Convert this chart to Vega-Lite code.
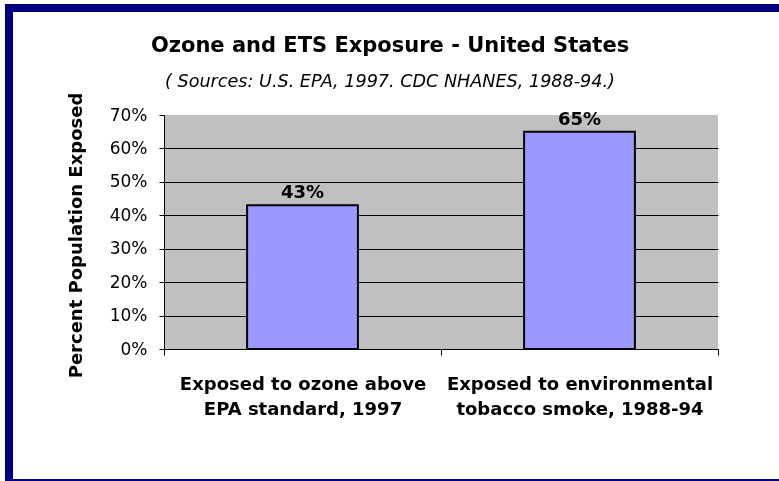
{
  "$schema": "https://vega.github.io/schema/vega-lite/v6.json",
  "autosize": {"type": "none"},
  "width": 776,
  "height": 475,
  "padding": {"left": 9, "top": 8, "right": 0, "bottom": 0},
  "background": "white",
  "title": {
    "text": "Ozone and ETS Exposure - United States",
    "subtitle": "( Sources:  U.S. EPA, 1997. CDC NHANES, 1988-94.)",
    "frame": "group",
    "anchor": "middle",
    "offset": -83,
    "dx": -7,
    "font": "DejaVu Sans",
    "fontSize": 21,
    "fontWeight": "bold",
    "color": "black",
    "subtitleFont": "DejaVu Sans",
    "subtitleFontSize": 17.6,
    "subtitleFontStyle": "italic",
    "subtitleColor": "black",
    "subtitlePadding": 17
  },
  "data": {
    "values": [
      {"cat": "Exposed to ozone above\nEPA standard, 1997", "value": 0.43},
      {"cat": "Exposed to environmental\ntobacco smoke, 1988-94", "value": 0.65}
    ]
  },
  "encoding": {
    "x": {
      "field": "cat",
      "type": "nominal",
      "sort": null,
      "scale": {"range": [155, 709], "paddingInner": 0, "paddingOuter": 0},
      "axis": {
        "title": null,
        "offset": -134,
        "tickBand": "extent",
        "tickSize": 6,
        "tickColor": "black",
        "domainColor": "black",
        "labelExpr": "split(datum.label, '\\n')",
        "labelFont": "DejaVu Sans",
        "labelFontWeight": "bold",
        "labelFontSize": 18,
        "labelLineHeight": 25.5,
        "labelPadding": 20,
        "labelLimit": 400,
        "labelAngle": 0,
        "labelColor": "black"
      }
    },
    "y": {
      "field": "value",
      "type": "quantitative",
      "scale": {"domain": [0, 0.7], "range": [341, 107], "nice": false},
      "axis": {
        "title": "Percent Population Exposed",
        "values": [0, 0.1, 0.2, 0.3, 0.4, 0.5, 0.6, 0.7],
        "format": ".0%",
        "offset": -155,
        "domainColor": "black",
        "tickColor": "black",
        "tickSize": 5,
        "labelFont": "DejaVu Sans",
        "labelFontSize": 17,
        "labelColor": "black",
        "labelPadding": 12,
        "labelOverlap": false,
        "grid": true,
        "gridColor": "black",
        "gridOpacity": {"condition": {"test": "datum.value > 0.65", "value": 0}, "value": 1},
        "titleFont": "DejaVu Sans",
        "titleFontWeight": "bold",
        "titleFontSize": 18,
        "titleColor": "black",
        "titleX": -83,
        "titleY": 227,
        "titleAlign": "center",
        "titleBaseline": "alphabetic"
      }
    }
  },
  "layer": [
    {
      "mark": {"type": "rect", "color": "#C0C0C0", "blend": "multiply"},
      "encoding": {
        "y": {"datum": 0, "type": "quantitative", "title": "Percent Population Exposed"},
        "y2": {"datum": 0.7}
      }
    },
    {
      "mark": {"type": "bar", "fill": "#9999FF", "stroke": "black", "strokeWidth": 2, "width": {"band": 0.4}}
    },
    {
      "mark": {"type": "text", "font": "DejaVu Sans", "fontWeight": "bold", "fontSize": 18, "baseline": "alphabetic", "dy": -7, "color": "black"},
      "encoding": {
        "text": {"field": "value", "type": "quantitative", "format": ".0%"}
      }
    }
  ],
  "config": {
    "view": {"stroke": "#000080", "strokeWidth": 8, "fill": "white"}
  }
}
